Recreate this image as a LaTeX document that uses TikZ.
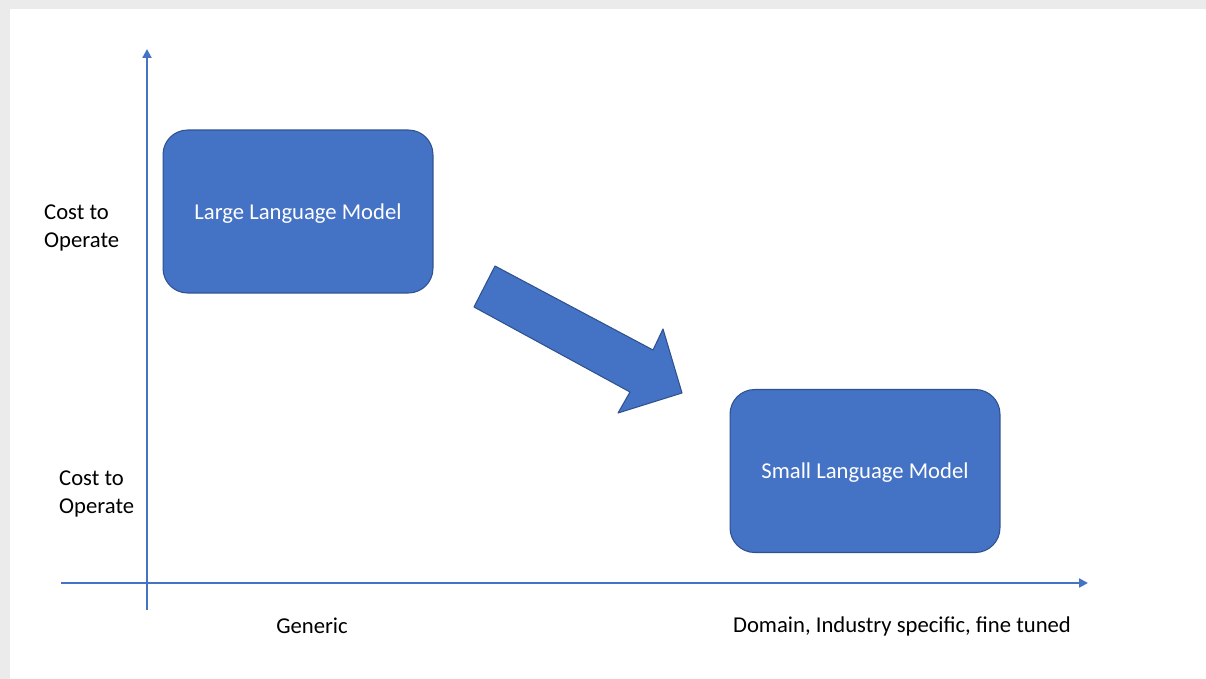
\documentclass[tikz,border=0pt]{standalone}
\usepackage{fontspec}
\setmainfont{Carlito}
\usepackage{tikz}
\usetikzlibrary{arrows.meta, positioning}
\definecolor{myblue}{RGB}{68,114,196}
\definecolor{myedge}{RGB}{47,82,143}
\definecolor{mygray}{RGB}{235,235,235}
\tikzset{
  model/.style={rectangle, draw=myedge, fill=myblue, text=white,
    minimum width=5.4cm, minimum height=3.26cm,
    rounded corners=14pt, line width=0.6pt, font=\fontsize{12.9}{15.5}\selectfont},
  axis/.style={-{Triangle[length=5pt,width=5pt]}, line width=1.2pt, color=myblue},
  label/.style={font=\fontsize{12.9}{15.5}\selectfont, align=left}
}
\newcommand{\boxtext}[1]{\raisebox{-4.5pt}[0pt][0pt]{#1}}

\begin{document}
\begin{tikzpicture}[x=0.02cm, y=-0.02cm]
  % page frame with the grey strips
  \fill[mygray] (0,0) rectangle (1206,679);
  \fill[white] (10,9) rectangle (1206,679);

  % axes
  \coordinate (ybot) at (147,610);
  \coordinate (ytop) at (147,49);
  \coordinate (xleft) at (61,583);
  \coordinate (xright) at (1088,583);
  \draw[axis] (ybot) -- (ytop);
  \draw[axis] (xleft) -- (xright);

  % boxes
  \node[model] (llm) at (298,211.5) {\boxtext{Large Language Model}};
  \node[model] (slm) at (865,471) {\boxtext{Small Language Model}};

  % block arrow between them
  \fill[myblue, draw=myedge, line width=0.6pt, line join=round]
    (495,266) -- (653,350) -- (663,329) -- (682,393)
    -- (618,413) -- (630,392) -- (474,307) -- cycle;

  % axis labels
  \node[label, anchor=west] (costhi) at (38,228) {Cost to\\Operate};
  \node[label, anchor=west] (costlo) at (53,494) {Cost to\\Operate};
  \node[label] (generic) at (312,626) {Generic};
  \node[label] (domain) at (902,626) {Domain, Industry specific, fine tuned};
\end{tikzpicture}
\end{document}
